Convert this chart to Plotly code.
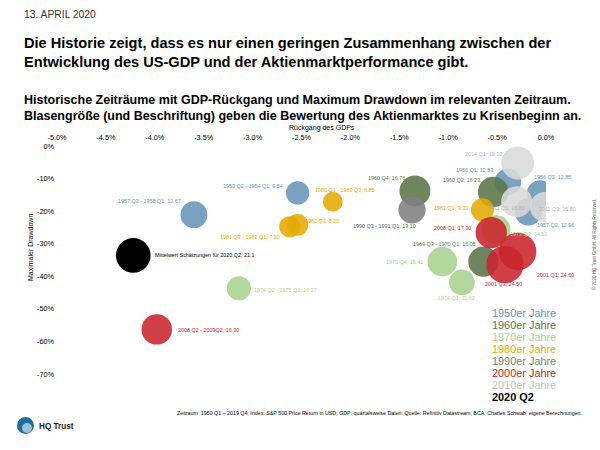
import plotly.graph_objects as go

# ---------------- data ----------------
decades = ["1950er Jahre", "1960er Jahre", "1970er Jahre", "1980er Jahre",
           "1990er Jahre", "2000er Jahre", "2010er Jahre", "2020 Q2"]

labels_50 = ["1953 Q2 - 1954 Q1; 9.54", "1956 Q1; 12.53", "1956 Q3; 12.85",
             "1957 Q2; 12.96", "1957 Q3 - 1958 Q1; 12.67"]
gdp_50 = [-2.54, -0.39, -0.06, -0.18, -3.60]
dd_50 = [-14.4, -11.0, -14.7, -20.2, -21.1]
val_50 = [9.54, 12.53, 12.85, 12.96, 12.67]

labels_60 = ["1960 Q2; 16.23", "1960 Q4; 16.76", "1969 Q3 - 1970 Q1; 16.05"]
gdp_60 = [-0.54, -1.34, -0.64]
dd_60 = [-14.1, -13.8, -35.5]
val_60 = [16.23, 16.76, 16.05]

labels_70 = ["1970 Q4; 15.41", "1973 Q3; 14.50", "1974 Q1; 11.62",
             "1974 Q2 - 1975 Q1; 10.27"]
gdp_70 = [-1.06, -0.51, -0.86, -3.14]
dd_70 = [-35.5, -25.7, -41.9, -43.7]
val_70 = [15.41, 14.50, 11.62, 10.27]

labels_80 = ["1980 Q1 - 1980 Q3; 6.85", "1981 Q2; 9.30",
             "1981 Q3 - 1982 Q1; 7.90", "1982 Q3; 8.20"]
gdp_80 = [-2.18, -0.65, -2.62, -2.54]
dd_80 = [-17.1, -19.6, -24.8, -24.2]
val_80 = [6.85, 9.30, 7.90, 8.20]

labels_90 = ["1990 Q3 - 1991 Q1; 13.10"]
gdp_90 = [-1.37]
dd_90 = [-19.6]
val_90 = [13.10]

labels_00 = ["2001 Q1; 24.60", "2001 Q3; 24.50", "2008 Q1; 17.30",
             "2008 Q2 - 2009Q2; 16.30"]
gdp_00 = [-0.29, -0.42, -0.56, -3.98]
dd_00 = [-32.4, -36.4, -26.6, -56.3]
val_00 = [24.60, 24.50, 17.30, 16.30]

labels_10 = ["2011 Q1; 16.80", "2011 Q3; 15.80", "2014 Q1; 19.10"]
gdp_10 = [-0.30, -0.01, -0.29]
dd_10 = [-17.1, -18.7, -5.2]
val_10 = [16.80, 15.80, 19.10]

labels_20 = ["Mittelwert Schätzungen für 2020 Q2; 21.1"]
gdp_20 = [-4.22]
dd_20 = [-33.6]
val_20 = [21.1]

x_tickvals = [-5.0, -4.5, -4.0, -3.5, -3.0, -2.5, -2.0, -1.5, -1.0, -0.5, 0.0]
x_ticktext = ["-5.0%", "-4.5%", "-4.0%", "-3.5%", "-3.0%", "-2.5%", "-2.0%",
              "-1.5%", "-1.0%", "-0.5%", "0.0%"]
y_tickvals = [0, -10, -20, -30, -40, -50, -60, -70]
y_ticktext = ["0%", "-10%", "-20%", "-30%", "-40%", "-50%", "-60%", "-70%"]

# ---------------- styles ----------------
colors = ["#6694B7", "#5B7448", "#A9D18E", "#E5AA00",
          "#808080", "#C9242C", "#D9D9D9", "#000000"]
label_colors = ["#6694B7", "#5B7448", "#A9D18E", "#E5AA00",
                "#595959", "#C9242C", "#B3B3B3", "#000000"]
legend_colors = ["#6694B7", "#5B7448", "#A9D18E", "#E5AA00",
                 "#808080", "#C9242C", "#BFBFBF", "#000000"]

# label placement per point: (xanchor, xshift, yshift) in px
place_50 = [("right", -13, 7), ("right", -13, 12), ("left", -8, 17),
            ("left", 7, -13), ("right", -11, 14)]
place_60 = [("right", -11, 12), ("right", -8, 13), ("right", -5, 18)]
place_70 = [("right", -17, 0), ("left", 12, -4), ("center", -5, -16),
            ("left", 13, -2)]
place_80 = [("left", -20, 12), ("right", -12, 2), ("right", -8, -10),
            ("left", 5, 4)]
place_90 = [("right", 6, -16)]
place_00 = [("left", 17, -23), ("center", -1, -19), ("right", -18, 5),
            ("left", 19, -1)]
place_10 = [("center", -10, -6), ("left", -8, -2), ("right", -14, 9)]
place_20 = [("left", 20, 0)]

groups = [
    (labels_50, gdp_50, dd_50, val_50, place_50),
    (labels_60, gdp_60, dd_60, val_60, place_60),
    (labels_70, gdp_70, dd_70, val_70, place_70),
    (labels_80, gdp_80, dd_80, val_80, place_80),
    (labels_90, gdp_90, dd_90, val_90, place_90),
    (labels_00, gdp_00, dd_00, val_00, place_00),
    (labels_10, gdp_10, dd_10, val_10, place_10),
    (labels_20, gdp_20, dd_20, val_20, place_20),
]

FONT = "Liberation Sans, Arial, sans-serif"
W, H = 600, 450
L, R, T, B = 57, 546, 146, 374


def px(xp):
    return (xp - L) / (R - L)


def py(yp):
    return (B - yp) / (B - T)


fig = go.Figure()
annotations = []

for i, (labs, gx, dy, vals, place) in enumerate(groups):
    fig.add_trace(go.Scatter(
        x=gx, y=dy, mode="markers", name=decades[i], text=labs,
        hoverinfo="text",
        marker=dict(size=vals, sizemode="area", sizeref=2 / 57.0,
                    color=colors[i], opacity=0.88 if i < 7 else 1.0,
                    line=dict(width=0)),
        showlegend=False, cliponaxis=True,
    ))
    for lab, xv, yv, (xa, xs, ys) in zip(labs, gx, dy, place):
        annotations.append(dict(
            x=xv, y=yv, xref="x", yref="y", text=lab, showarrow=False,
            xanchor=xa, yanchor="middle", xshift=xs, yshift=ys,
            font=dict(family=FONT, size=5.4, color=label_colors[i]),
        ))

# legend as coloured text
for i, name in enumerate(decades):
    annotations.append(dict(
        x=px(490), y=py(313 + 12 * i), xref="paper", yref="paper",
        text=("<b>%s</b>" % name) if i == 7 else name, showarrow=False,
        xanchor="left", yanchor="middle",
        font=dict(family=FONT, size=10.9, color=legend_colors[i]),
    ))

# header texts
annotations += [
    dict(x=px(22), y=py(14), xref="paper", yref="paper", text="13. APRIL 2020",
         showarrow=False, xanchor="left", yanchor="middle",
         font=dict(family=FONT, size=10.3, color="#333333")),
    dict(x=px(22), y=py(52.5), xref="paper", yref="paper",
         text="<b>Die Historie zeigt, dass es nur einen geringen Zusammenhang zwischen der<br>"
              "Entwicklung des US-GDP und der Aktienmarktperformance gibt.</b>",
         showarrow=False, xanchor="left", yanchor="middle", align="left",
         font=dict(family=FONT, size=14.6, color="#000000")),
    dict(x=px(22), y=py(107.5), xref="paper", yref="paper",
         text="<b>Historische Zeiträume mit GDP-Rückgang und Maximum Drawdown im relevanten Zeitraum.<br>"
              "Blasengröße (und Beschriftung) geben die Bewertung des Aktienmarktes zu Krisenbeginn an.</b>",
         showarrow=False, xanchor="left", yanchor="middle", align="left",
         font=dict(family=FONT, size=12.5, color="#000000")),
    dict(x=px(322), y=py(128), xref="paper", yref="paper", text="Rückgang des GDPs",
         showarrow=False, xanchor="center", yanchor="middle",
         font=dict(family=FONT, size=7, color="#000000")),
    dict(x=px(30), y=py(248), xref="paper", yref="paper", text="Maximaler Drawdown",
         showarrow=False, xanchor="center", yanchor="middle", textangle=-90,
         font=dict(family=FONT, size=7, color="#000000")),
    dict(x=px(175), y=py(413), xref="paper", yref="paper",
         text="Zeitraum: 1950 Q1 – 2019 Q4; Index: S&P 500 Price Return in USD; GDP: quartalsweise Daten. "
              "Quelle: Refinitiv Datastream, BCA, Charles Schwab, eigene Berechnungen.",
         showarrow=False, xanchor="left", yanchor="middle",
         font=dict(family=FONT, size=5.3, color="#000000")),
    dict(x=px(37), y=py(426), xref="paper", yref="paper", text="<b>HQ Trust</b>",
         showarrow=False, xanchor="left", yanchor="middle",
         font=dict(family=FONT, size=8.2, color="#1a1a1a")),
    dict(x=px(594), y=py(245), xref="paper", yref="paper",
         text="© 2020 HQ Trust GmbH. All Rights Reserved.",
         showarrow=False, xanchor="center", yanchor="middle", textangle=-90,
         font=dict(family=FONT, size=4.5, color="#666666")),
]

shapes = [
    dict(type="circle", xref="paper", yref="paper",
         x0=px(17), x1=px(34), y0=py(434), y1=py(417),
         fillcolor="#1F6E9E", line=dict(width=0)),
    dict(type="circle", xref="paper", yref="paper",
         x0=px(22), x1=px(32), y0=py(433), y1=py(423),
         fillcolor="#9CC3DA", line=dict(width=0)),
]

fig.update_layout(
    width=W, height=H,
    margin=dict(l=L, r=W - R, t=T, b=H - B, pad=0),
    paper_bgcolor="white", plot_bgcolor="white",
    font=dict(family=FONT, size=7, color="#000000"),
    xaxis=dict(range=[-5.0, 0.0], side="top", tickvals=x_tickvals,
               ticktext=x_ticktext, showgrid=False, zeroline=False,
               showline=False, ticks="", tickfont=dict(size=7.3),
               ticklabelstandoff=4),
    yaxis=dict(range=[-70, 0], tickvals=y_tickvals, ticktext=y_ticktext,
               showgrid=False, zeroline=False, showline=False, ticks="",
               tickfont=dict(size=7.3), ticklabelstandoff=2),
    annotations=annotations, shapes=shapes,
)

fig.write_html("out.html", config={"displayModeBar": False},
               post_script="document.body.style.margin='0px';document.body.style.overflow='hidden';")
